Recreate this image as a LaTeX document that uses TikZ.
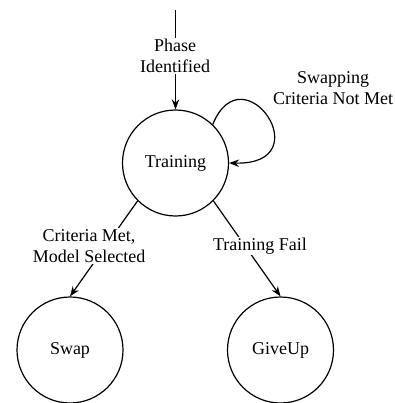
\documentclass[tikz,border=0pt]{standalone}
\usepackage{fontspec}
\setmainfont{Liberation Serif}
\usetikzlibrary{arrows.meta}
\begin{document}
\begin{tikzpicture}[x=1pt,y=-1pt,
  every node/.style={font=\fontsize{18}{21}\selectfont},
  state/.style={draw,circle,line width=1.2pt,minimum size=106pt,inner sep=0pt},
  conn/.style={line width=1.2pt,-{Stealth[length=10pt,width=7.5pt]}},
  lab/.style={fill=white,align=center,inner sep=1pt}]
\useasboundingbox (0,0) rectangle (394,403);
\node[state] (tr) at (175.5,163) {Training};
\node[state] (sw) at (70,350) {Swap};
\node[state] (gu) at (280.5,350) {GiveUp};
\coordinate (top) at (175.5,10);
\draw[conn] (top) -- (tr.north);
\node[lab] (l1) at (175,56) {Phase\\Identified};
\draw[conn] (tr.46) .. controls (243,50) and (322,165) .. (tr.east);
\node[lab,fill=none] (l2) at (333,88) {Swapping\\Criteria Not Met};
\draw[conn] (tr.-135) -- (sw.north);
\node[lab] (l3) at (89,246) {Criteria Met,\\Model Selected};
\draw[conn] (tr.-45) -- (gu.north);
\node[lab] (l4) at (260,246) {Training Fail};
\end{tikzpicture}
\end{document}
